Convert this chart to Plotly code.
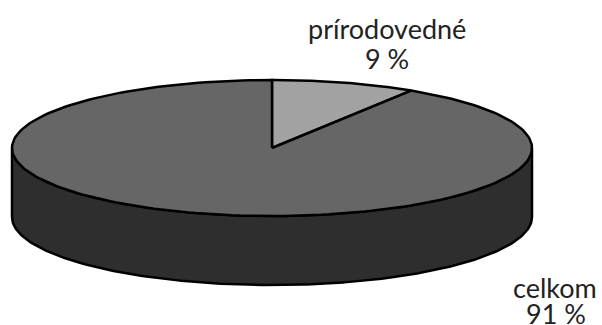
import numpy as np
import plotly.graph_objects as go

categories = ["prírodovedné", "celkom"]
values = [9, 91]
label_lines = [["prírodovedné", "9 %"], ["celkom", "91 %"]]
colors = ["#a2a2a2", "#666666"]
side_color = "#2e2e2e"
edge = "#000000"

W, H = 602, 325
cx, cy, rx, ry, depth = 272, 148, 260, 68, 69


def arc(a0, a1, n=200):
    t = np.radians(np.linspace(a0, a1, n))
    return cx + rx * np.sin(t), cy - ry * np.cos(t)


fig = go.Figure()

x, y = arc(90, 270)
fig.add_trace(go.Scatter(
    x=np.r_[x, x[::-1], x[0]], y=np.r_[y, y[::-1] + depth, y[0]],
    mode="lines", fill="toself", fillcolor=side_color,
    line=dict(color=edge, width=2.5), hoverinfo="skip", showlegend=False))

total = sum(values)
start = 0.0
for name, v, c in zip(categories, values, colors):
    end = start + 360.0 * v / total
    x, y = arc(start, end)
    fig.add_trace(go.Scatter(
        x=np.r_[cx, x, cx], y=np.r_[cy, y, cy],
        mode="lines", fill="toself", fillcolor=c, name=name,
        line=dict(color=edge, width=2.5), hoverinfo="name", showlegend=False))
    start = end

font = dict(family="Lato, 'Open Sans', sans-serif", size=27, color="#222222")
ann = [dict(x=387, y=28, text=label_lines[0][0]),
       dict(x=387, y=58, text=label_lines[0][1]),
       dict(x=555, y=287, text=label_lines[1][0]),
       dict(x=556, y=313, text=label_lines[1][1])]

fig.update_layout(
    width=W, height=H, margin=dict(l=0, r=0, t=0, b=0),
    paper_bgcolor="white", plot_bgcolor="white",
    xaxis=dict(range=[0, W], visible=False, fixedrange=True),
    yaxis=dict(range=[H, 0], visible=False, fixedrange=True),
    annotations=[dict(a, xref="x", yref="y", showarrow=False, font=font,
                      xanchor="center", yanchor="middle") for a in ann],
)
fig.write_html("out.html", config={"displayModeBar": False},
               post_script="document.body.style.margin='0';document.body.style.overflow='hidden';")
